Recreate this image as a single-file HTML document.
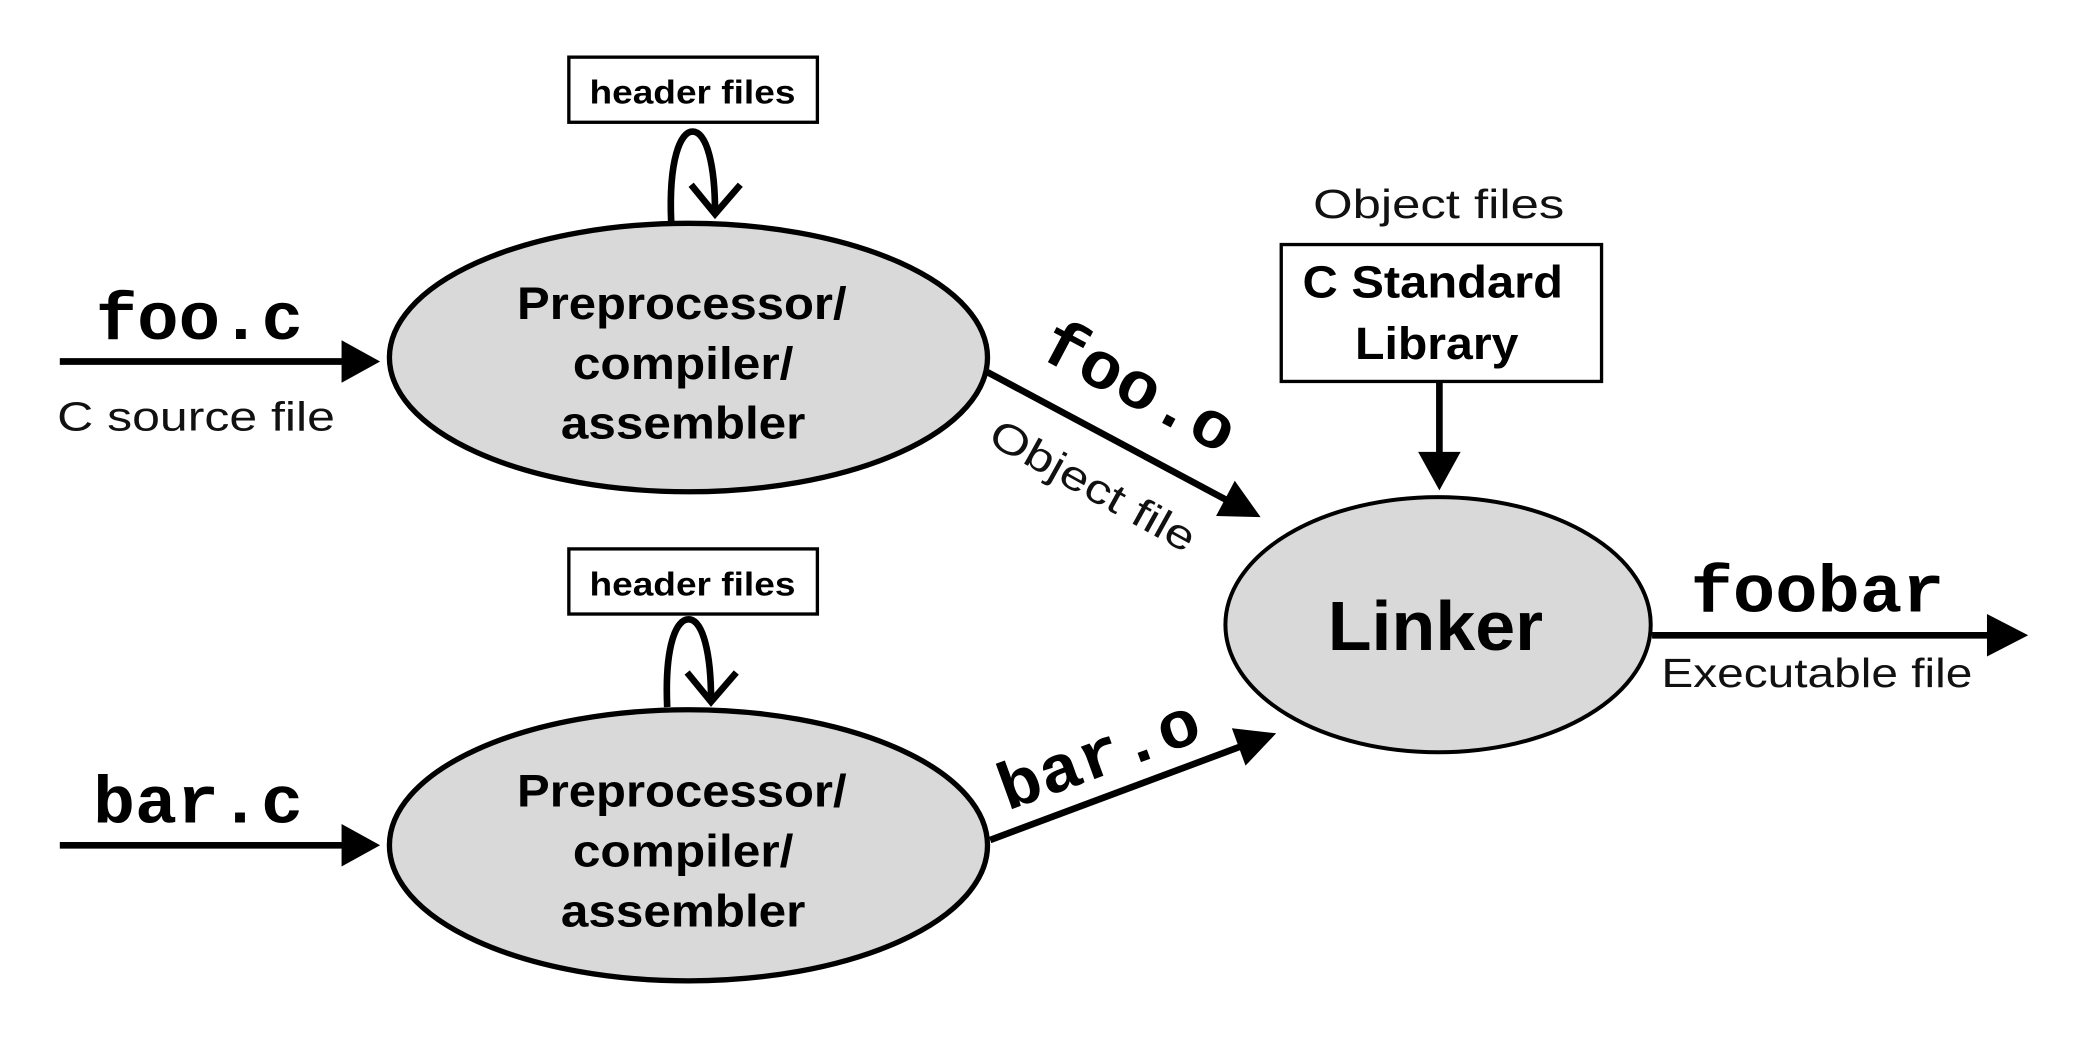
<!DOCTYPE html>
<html><head><meta charset="utf-8"><style>
html,body{margin:0;padding:0;background:#fff;}
svg{display:block;}
.m{font-family:"Liberation Mono",monospace;font-weight:bold;}
.s{font-family:"Liberation Sans",sans-serif;}
</style></head><body>
<svg width="2084" height="1040" viewBox="0 0 1568 782.5" preserveAspectRatio="none" xmlns="http://www.w3.org/2000/svg">
<g stroke="#000" stroke-width="4">
<ellipse cx="518" cy="269" rx="225" ry="101" fill="#d9d9d9"/>
<ellipse cx="518" cy="636" rx="225" ry="102" fill="#d9d9d9"/>
<ellipse cx="1082" cy="470" rx="160" ry="96" fill="#d9d9d9" stroke-width="3"/>
<rect x="428" y="43" width="187" height="49" fill="#fff" stroke-width="2.5"/>
<rect x="428" y="413" width="187" height="49" fill="#fff" stroke-width="2.5"/>
<rect x="964" y="184" width="241" height="103" fill="#fff" stroke-width="2.5"/>
<line x1="45" y1="272" x2="262" y2="272" stroke-width="5"/>
<line x1="45" y1="636" x2="262" y2="636" stroke-width="5"/>
<line x1="743" y1="280" x2="928" y2="379" stroke-width="5"/>
<line x1="745" y1="632" x2="938" y2="560" stroke-width="5"/>
<line x1="1083" y1="287" x2="1083" y2="345" stroke-width="5"/>
<line x1="1243" y1="478" x2="1500" y2="478" stroke-width="5"/>
<path d="M505 167 C503 120 512 99 521 99 C532 99 538 125 538 160" fill="none" stroke-width="5"/>
<path d="M520 139 L538 161 L557 139" fill="none" stroke-width="5"/>
<path d="M502 532 C500 485 509 466 518 466 C529 466 535 492 535 527" fill="none" stroke-width="5"/>
<path d="M517 506 L535 528 L554 506" fill="none" stroke-width="5"/>
</g>
<g fill="#000">
<polygon points="257,256 286,272 257,288"/>
<polygon points="257,620 286,636 257,652"/>
<polygon points="1067,340 1099,340 1083,369"/>
<polygon points="1495,462 1526,478 1495,494"/>
<polygon points="0,-15 30,0 0,15" transform="translate(922,375) rotate(28)"/>
<polygon points="0,-15 30,0 0,15" transform="translate(932,562) rotate(-20)"/>
</g>
<g class="s" font-weight="bold" text-anchor="middle">
<text x="521" y="78" font-size="25" textLength="155" lengthAdjust="spacingAndGlyphs">header files</text>
<text x="521" y="448" font-size="25" textLength="155" lengthAdjust="spacingAndGlyphs">header files</text>
<text x="513" y="240" font-size="34" textLength="248" lengthAdjust="spacingAndGlyphs">Preprocessor/</text>
<text x="514" y="285" font-size="34" textLength="166" lengthAdjust="spacingAndGlyphs">compiler/</text>
<text x="514" y="330" font-size="34" textLength="184" lengthAdjust="spacingAndGlyphs">assembler</text>
<text x="513" y="607" font-size="34" textLength="248" lengthAdjust="spacingAndGlyphs">Preprocessor/</text>
<text x="514" y="652" font-size="34" textLength="166" lengthAdjust="spacingAndGlyphs">compiler/</text>
<text x="514" y="697" font-size="34" textLength="184" lengthAdjust="spacingAndGlyphs">assembler</text>
<text x="1078" y="224" font-size="34" textLength="196" lengthAdjust="spacingAndGlyphs">C Standard</text>
<text x="1081" y="270" font-size="34" textLength="123" lengthAdjust="spacingAndGlyphs">Library</text>
<text x="1080" y="489" font-size="52" textLength="162" lengthAdjust="spacingAndGlyphs">Linker</text>
</g>
<g class="s" fill="#111">
<text x="43" y="324" font-size="31" textLength="209" lengthAdjust="spacingAndGlyphs">C source file</text>
<text x="988" y="164" font-size="31" textLength="189" lengthAdjust="spacingAndGlyphs">Object files</text>
<text x="1250" y="517" font-size="31" textLength="234" lengthAdjust="spacingAndGlyphs">Executable file</text>
<text x="742" y="333" font-size="31" transform="rotate(29 742 333)" textLength="172" lengthAdjust="spacingAndGlyphs">Object file</text>
</g>
<g class="m">
<text x="72" y="255" font-size="50" textLength="156" lengthAdjust="spacingAndGlyphs">foo.c</text>
<text x="70" y="619" font-size="50" textLength="158" lengthAdjust="spacingAndGlyphs">bar.c</text>
<text x="1272" y="460" font-size="50" textLength="191" lengthAdjust="spacingAndGlyphs">foobar</text>
<text x="780" y="268" font-size="50" transform="rotate(28 780 268)" textLength="158" lengthAdjust="spacingAndGlyphs">foo.o</text>
<text x="758" y="610" font-size="50" transform="rotate(-20 758 610)" textLength="158" lengthAdjust="spacingAndGlyphs">bar.o</text>
</g>
</svg>
</body></html>
